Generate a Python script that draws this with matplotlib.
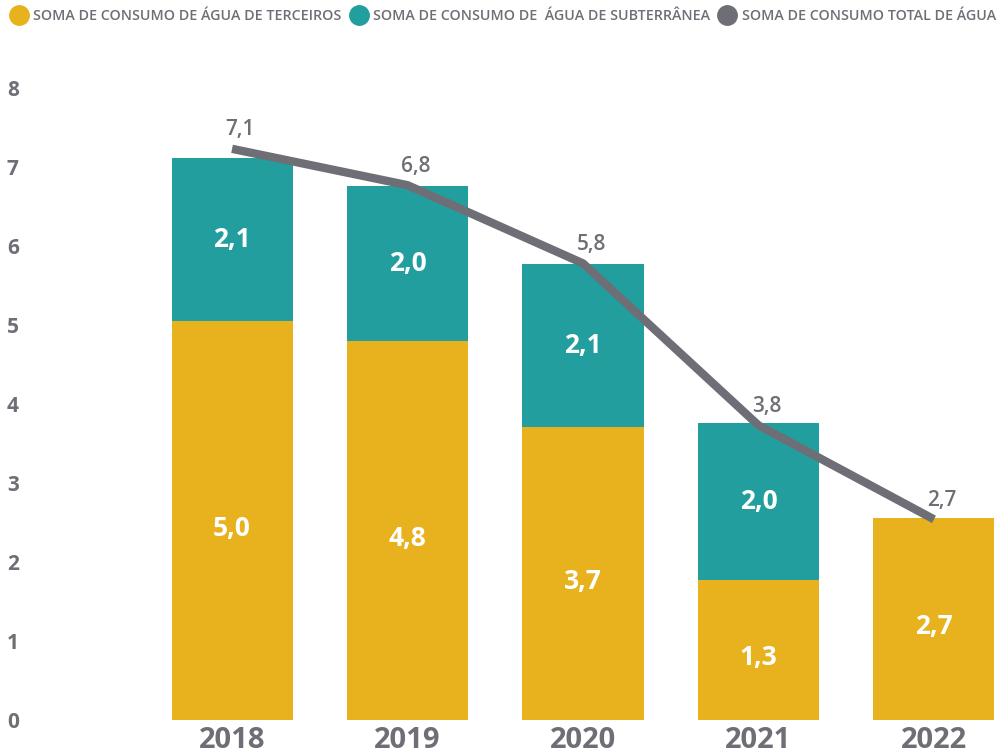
import matplotlib.pyplot as plt
from matplotlib.lines import Line2D

# data
anos = ['2018', '2019', '2020', '2021', '2022']
terceiros = [5.05, 4.80, 3.71, 1.77, 2.56]
subterranea = [2.07, 1.96, 2.06, 1.99, 0.0]
total = [7.23, 6.77, 5.78, 3.73, 2.54]
rotulos_terceiros = ['5,0', '4,8', '3,7', '1,3', '2,7']
rotulos_subterranea = ['2,1', '2,0', '2,1', '2,0', '']
rotulos_total = ['7,1', '6,8', '5,8', '3,8', '2,7']

AMARELO = '#E8B21E'
VERDE = '#239E9E'
CINZA = '#6E6E76'

plt.rcParams['font.family'] = ['Open Sans', 'DejaVu Sans']


def graph():
    fig = plt.figure(figsize=(9.98, 7.56), dpi=100)
    ax = fig.add_axes([25 / 998, 1 - 720 / 756, 973 / 998, (720 - 88) / 756])
    x = list(range(len(anos)))
    largura = 0.69

    ax.bar(x, terceiros, width=largura, color=AMARELO, zorder=2)
    ax.bar(x, subterranea, width=largura, bottom=terceiros, color=VERDE, zorder=2)
    ax.plot(x, total, color=CINZA, linewidth=6, solid_capstyle='butt', zorder=3)

    # labels inside the bars
    for i in x:
        ax.text(i, terceiros[i] / 2 - 0.1, rotulos_terceiros[i], ha='center', va='center',
                color='white', fontsize=19, fontweight='bold', zorder=4)
        if rotulos_subterranea[i]:
            ax.text(i, terceiros[i] + subterranea[i] / 2, rotulos_subterranea[i], ha='center',
                    va='center', color='white', fontsize=19, fontweight='bold', zorder=4)
        ax.annotate(rotulos_total[i], (i, total[i]), xytext=(6, 6), textcoords='offset points',
                    ha='center', va='bottom', color=CINZA, fontsize=15, fontweight='semibold')

    ax.set_xlim(-1.18, 4.365)
    ax.set_ylim(0, 8)
    ax.set_xticks(x)
    ax.set_xticklabels(anos)
    ax.set_yticks(range(0, 9))
    for s in ax.spines.values():
        s.set_visible(False)
    ax.tick_params(axis='x', length=0, pad=4, labelsize=21, labelcolor=CINZA)
    ax.tick_params(axis='y', length=0, pad=13, labelsize=15, labelcolor=CINZA)
    for t in ax.get_xticklabels() + ax.get_yticklabels():
        t.set_fontweight('bold')
    for t in ax.get_yticklabels():
        t.set_horizontalalignment('left')

    # legend
    itens = [Line2D([], [], marker='o', linestyle='none', markersize=14, color=c) for c in (AMARELO, VERDE, CINZA)]
    nomes = ['SOMA DE CONSUMO DE ÁGUA DE TERCEIROS', 'SOMA DE CONSUMO DE  ÁGUA DE SUBTERRÂNEA',
             'SOMA DE CONSUMO TOTAL DE ÁGUA']
    leg = fig.legend(itens, nomes, loc='upper left', bbox_to_anchor=(-0.001, 1.005), ncol=3, frameon=False,
                     fontsize=10.3, handlelength=1.0, handletextpad=0.5, columnspacing=0.7)
    for t in leg.get_texts():
        t.set_color(CINZA)
        t.set_fontweight('semibold')

    fig.savefig('out.png', dpi=100)


def main():
    graph()


if __name__ == "__main__": main()
